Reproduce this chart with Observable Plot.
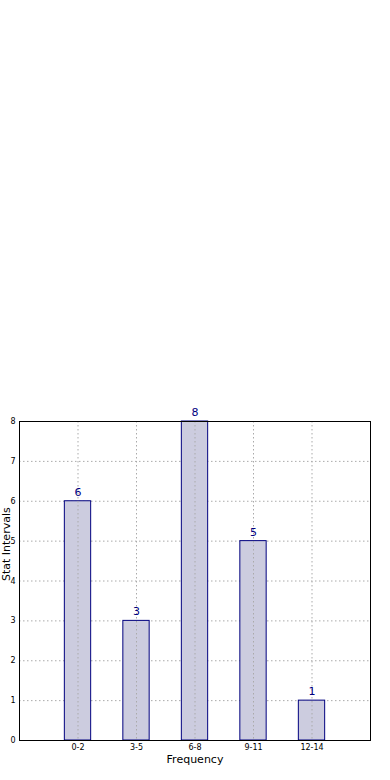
<!DOCTYPE html>
<html>
<head>
<meta charset="utf-8">
<script src="https://cdn.jsdelivr.net/npm/d3@7"></script>
<script src="https://cdn.jsdelivr.net/npm/@observablehq/plot@0.6"></script>
<style>
  html, body { margin: 0; padding: 0; background: #ffffff; }
  #chart svg { display: block; }
</style>
</head>
<body>
<div id="chart"></div>
<script>
const categories = ["0-2", "3-5", "6-8", "9-11", "12-14"];
const counts = [6, 3, 8, 5, 1];
const yTicks = [0, 1, 2, 3, 4, 5, 6, 7, 8];
const xLabel = "Frequency";
const yLabel = "Stat Intervals";

const data = categories.map((c, i) => ({i, cat: c, value: counts[i]}));
const halfWidth = 0.225;

const chart = Plot.plot({
  width: 390,
  height: 780,
  marginTop: 421,
  marginBottom: 40,
  marginLeft: 19,
  marginRight: 20,
  style: {fontFamily: "DejaVu Sans", background: "#ffffff", color: "#000"},
  x: {domain: [-1, 5]},
  y: {domain: [0, 8]},
  marks: [
    Plot.gridY(yTicks, {stroke: "#aaaaaa", strokeOpacity: 1, strokeDasharray: "1.5,2.5"}),
    Plot.rectY(data, {x1: d => d.i - halfWidth, x2: d => d.i + halfWidth, y1: 0, y2: "value", fill: "#ccccdf", stroke: "#00007f", strokeWidth: 1}),
    Plot.gridX(categories.map((c, i) => i), {stroke: "#aaaaaa", strokeOpacity: 1, strokeDasharray: "1.5,2.5"}),
    Plot.text(data, {x: "i", y: "value", text: d => String(d.value), dy: -9, fill: "#00007f", fontSize: 11}),
    Plot.axisX(categories.map((c, i) => i), {tickFormat: i => categories[i], tickSize: 0, tickPadding: 4, fontSize: 8, label: null}),
    Plot.axisY(yTicks, {tickSize: 0, tickPadding: 4, fontSize: 8, label: null}),
    Plot.text([xLabel], {frameAnchor: "bottom", dy: 22, fontSize: 11, fill: "#000"}),
    Plot.text([yLabel], {frameAnchor: "left", dx: -13, rotate: -90, fontSize: 11, fill: "#000"}),
    Plot.frame({stroke: "#000", strokeWidth: 1})
  ]
});
document.getElementById("chart").appendChild(chart);
</script>
</body>
</html>
